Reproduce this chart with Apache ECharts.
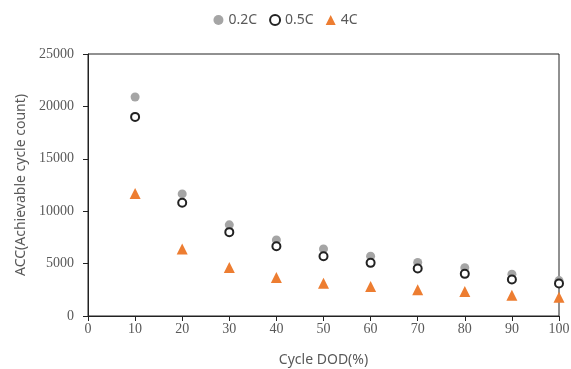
<!DOCTYPE html>
<html>
<head>
<meta charset="utf-8">
<script src="https://cdn.jsdelivr.net/npm/echarts@6/dist/echarts.min.js"></script>
<style>
  html, body { margin: 0; padding: 0; background: #fff; }
  #chart { width: 571px; height: 369px; }
</style>
</head>
<body>
<div id="chart"></div>
<script>
// cycle depth of discharge (%)
var dod = [10, 20, 30, 40, 50, 60, 70, 80, 90, 100]
// achievable cycle count per C-rate
var c02 = [20900, 11650, 8700, 7250, 6400, 5700, 5100, 4600, 3980, 3380]
var c05 = [19000, 10800, 8000, 6650, 5700, 5070, 4530, 4020, 3480, 3100]
var c4 = [11700, 6400, 4620, 3680, 3130, 2820, 2500, 2330, 1990, 1800]

var pairs = function (ys) {
  return dod.map(function (x, i) { return [x, ys[i]] })
}

var Chart = echarts.init(document.getElementById('chart'))
var font = 'Noto Sans'
var tickFont = 'Liberation Serif'
var option = {
  animation: false,
  textStyle: { fontFamily: font },
  legend: {
    top: 8,
    left: 'center',
    itemWidth: 10,
    itemHeight: 10,
    itemGap: 12,
    textStyle: { fontSize: 14, color: '#595959', fontFamily: font },
    data: ['0.2C', '0.5C', '4C']
  },
  grid: {
    left: 88,
    right: 12,
    top: 54,
    bottom: 53,
    outerBoundsMode: 'none',
    show: true,
    borderColor: '#222',
    borderWidth: 1
  },
  xAxis: {
    type: 'value',
    min: 0,
    max: 100,
    interval: 10,
    name: 'Cycle DOD(%)',
    nameLocation: 'middle',
    nameGap: 37,
    nameTextStyle: { fontSize: 14, color: '#595959' },
    axisLine: { lineStyle: { color: '#222' } },
    axisTick: { show: true, length: 5, lineStyle: { color: '#222' } },
    axisLabel: { fontSize: 14, color: '#595959', margin: 6, fontFamily: tickFont },
    splitLine: { show: false }
  },
  yAxis: {
    type: 'value',
    min: 0,
    max: 25000,
    interval: 5000,
    name: 'ACC(Achievable cycle count)',
    nameLocation: 'middle',
    nameGap: 60,
    nameTextStyle: { fontSize: 14, color: '#595959' },
    axisLine: { show: true, lineStyle: { color: '#222' } },
    axisTick: { show: true, length: 5, lineStyle: { color: '#222' } },
    axisLabel: {
      fontSize: 14, color: '#595959', margin: 14, fontFamily: tickFont,
      formatter: function (v) { return String(v) }
    },
    splitLine: { show: false }
  },
  series: [
    {
      name: '0.2C',
      type: 'scatter',
      symbol: 'circle',
      symbolSize: 9,
      itemStyle: { color: '#a5a5a5', opacity: 1 },
      data: pairs(c02)
    },
    {
      name: '0.5C',
      type: 'scatter',
      symbol: 'emptyCircle',
      symbolSize: 8,
      itemStyle: { color: '#222', borderColor: '#222', borderWidth: 1.5, opacity: 1 },
      data: pairs(c05)
    },
    {
      name: '4C',
      type: 'scatter',
      symbol: 'triangle',
      symbolSize: 11,
      itemStyle: { color: '#ed7d31', opacity: 1 },
      data: pairs(c4)
    }
  ]
}
Chart.setOption(option)
</script>
</body>
</html>
